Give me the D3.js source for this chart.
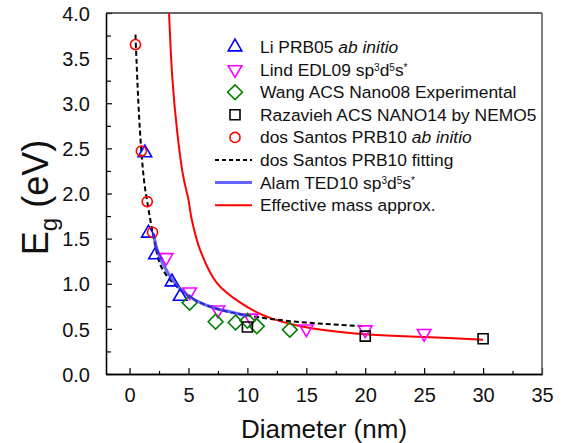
<!DOCTYPE html>
<html>
<head>
<meta charset="utf-8">
<script src="https://cdn.jsdelivr.net/npm/d3@7"></script>
<style>
  body { margin: 0; background: #fff; }
  svg { font-family: "Liberation Sans", Arial, sans-serif; }
</style>
</head>
<body>
<div id="chart"></div>
<script>
// values
const liPRB05 = [[1.3, 2.45], [1.6, 1.56], [2.2, 1.32], [3.6, 1.02], [4.3, 0.86]];
const lindEDL09 = [[3.1, 1.29], [5.1, 0.91], [7.5, 0.71], [10.3, 0.62], [15, 0.5], [20, 0.49], [25, 0.45]];
const wangNano08 = [[5.1, 0.79], [7.3, 0.58], [9.0, 0.57], [10.0, 0.59], [10.8, 0.53], [13.6, 0.49]];
const razaviehNano14 = [[10, 0.52], [20, 0.42], [30, 0.39]];
const dosSantosAbInitio = [[0.5, 3.65], [1.0, 2.47], [1.5, 1.91], [1.95, 1.57]];
const dosSantosFit = [[0.5, 3.76], [0.75, 3.0], [1.0, 2.47], [1.25, 2.12], [1.5, 1.91], [2.0, 1.54],
  [2.5, 1.25], [3.0, 1.12], [4.0, 0.97], [5.0, 0.86], [6.0, 0.79], [8.0, 0.7], [10, 0.65],
  [12, 0.61], [15, 0.57], [20, 0.53]];
const alamTED10 = [[2.0, 1.56], [2.4, 1.35], [3.0, 1.18], [3.5, 1.07], [4.5, 0.92], [6.0, 0.79],
  [7.5, 0.72], [8.5, 0.69], [10, 0.64]];
const effMass = [[3.35, 4.0], [3.64, 3.26], [4.03, 2.7], [4.54, 2.2], [5.0, 1.93], [5.28, 1.71],
  [6.0, 1.37], [7.4, 1.01], [9.4, 0.79], [11.65, 0.635], [14.5, 0.53], [20, 0.44], [25, 0.41], [30, 0.38]];

const xTicks = [0, 5, 10, 15, 20, 25, 30, 35];
const yTicks = [0, 0.5, 1, 1.5, 2, 2.5, 3, 3.5, 4];

const W = 574, H = 443;
const margin = { top: 13, right: 32, bottom: 69, left: 106 },
  width = W - margin.left - margin.right,
  height = H - margin.top - margin.bottom;

const svg = d3.select("#chart").append("svg").attr("width", W).attr("height", H);

const xScale = d3.scaleLinear().domain([-2, 35]).range([0, width]);
const yScale = d3.scaleLinear().domain([0, 4]).range([height, 0]);

const g = svg.append("g").attr("transform", `translate(${margin.left},${margin.top})`);

g.append("clipPath").attr("id", "clip").append("rect").attr("width", width).attr("height", height);

// axes (ticks pointing inward)
const xAxis = g.append("g").attr("transform", `translate(0,${height})`)
  .call(d3.axisBottom(xScale).tickValues(xTicks).tickSizeInner(-6).tickSizeOuter(0).tickPadding(14));
const xMinor = g.append("g").attr("transform", `translate(0,${height})`)
  .call(d3.axisBottom(xScale).tickValues(xTicks.slice(0, -1).map(d => d + 2.5)).tickSizeInner(-3).tickSizeOuter(0).tickFormat(""));
const yAxis = g.append("g")
  .call(d3.axisLeft(yScale).tickValues(yTicks).tickFormat(d3.format(".1f")).tickSizeInner(-6).tickSizeOuter(0).tickPadding(16));
const yMinor = g.append("g")
  .call(d3.axisLeft(yScale).tickValues(yTicks.slice(0, -1).map(d => d + 0.25)).tickSizeInner(-5).tickSizeOuter(0).tickFormat(""));

[xAxis, xMinor, yAxis, yMinor].forEach(a => {
  a.select(".domain").attr("stroke", "#000").attr("stroke-width", 1.3);
  a.selectAll("line").attr("stroke", "#000").attr("stroke-width", 1.2);
});
xAxis.selectAll("text").attr("font-size", 20).attr("fill", "#111").attr("font-family", "Liberation Sans, Arial");
yAxis.selectAll("text").attr("font-size", 20).attr("fill", "#111").attr("font-family", "Liberation Sans, Arial")
  .attr("dy", "0.36em");

// box top and right
g.append("line").attr("x1", 0).attr("x2", width).attr("y1", 0).attr("y2", 0)
  .attr("stroke", "#333").attr("stroke-width", 1.3);
g.append("line").attr("x1", width).attr("x2", width).attr("y1", 0).attr("y2", height)
  .attr("stroke", "#555").attr("stroke-width", 1.5);

// axis titles
svg.append("text").attr("x", margin.left + width / 2).attr("y", 438)
  .attr("text-anchor", "middle").attr("font-size", 26).attr("fill", "#111").text("Diameter (nm)");
const yt = svg.append("text").attr("transform", `translate(48,${margin.top + height / 2 + 4}) rotate(-90)`)
  .attr("text-anchor", "middle").attr("font-size", 36).attr("fill", "#111");
yt.append("tspan").text("E");
yt.append("tspan").attr("font-size", 24).attr("dy", 9).text("g");
yt.append("tspan").attr("dy", -9).text(" (eV)");

const lineGen = d3.line().x(d => xScale(d[0])).y(d => yScale(d[1])).curve(d3.curveMonotoneX);
const smoothGen = d3.line().x(d => xScale(d[0])).y(d => yScale(d[1])).curve(d3.curveCatmullRom.alpha(0.5));
const plot = g.append("g").attr("clip-path", "url(#clip)");

plot.append("path").datum(effMass).attr("d", smoothGen)
  .attr("fill", "none").attr("stroke", "#ff0000").attr("stroke-width", 2);
plot.append("path").datum(dosSantosFit).attr("d", lineGen)
  .attr("fill", "none").attr("stroke", "#000").attr("stroke-width", 2).attr("stroke-dasharray", "5,3");

const series = [
  { data: liPRB05, type: d3.symbolTriangle, size: 80, rot: 0, color: "#0000ff" },
  { data: lindEDL09, type: d3.symbolTriangle, size: 80, rot: 180, color: "#ff00ff" },
  { data: wangNano08, type: d3.symbolSquare, size: 110, rot: 45, color: "#008000" },
  { data: razaviehNano14, type: d3.symbolSquare, size: 100, rot: 0, color: "#000" },
  { data: dosSantosAbInitio, type: d3.symbolCircle, size: 80, rot: 0, color: "#ff0000" }
];

series.forEach(s => {
  plot.append("g").selectAll("path").data(s.data).enter().append("path")
    .attr("d", d3.symbol().type(s.type).size(s.size))
    .attr("transform", d => `translate(${xScale(d[0])},${yScale(d[1])}) rotate(${s.rot})`)
    .attr("fill", "none").attr("stroke", s.color).attr("stroke-width", 1.6);
});

plot.append("path").datum(alamTED10).attr("d", lineGen)
  .attr("fill", "none").attr("stroke", "#3333ff").attr("stroke-width", 3).attr("stroke-opacity", 0.75);

// legend
const legendItems = [
  { parts: [["Li PRB05 "], ["ab initio", "i"]], marker: 0 },
  { parts: [["Lind EDL09 sp"], ["3", "s"], ["d"], ["5", "s"], ["s"], ["*", "s"]], marker: 1 },
  { parts: [["Wang ACS Nano08 Experimental"]], marker: 2 },
  { parts: [["Razavieh ACS NANO14 by NEMO5"]], marker: 3 },
  { parts: [["dos Santos PRB10 "], ["ab initio", "i"]], marker: 4 },
  { parts: [["dos Santos PRB10 fitting"]], line: { color: "#000", dash: "4,3", w: 2 } },
  { parts: [["Alam TED10 sp"], ["3", "s"], ["d"], ["5", "s"], ["s"], ["*", "s"]], line: { color: "#3333ff", w: 3, op: 0.75 } },
  { parts: [["Effective mass approx."]], line: { color: "#ff0000", w: 2 } }
];

const leg = svg.append("g");
legendItems.forEach((it, i) => {
  const cy = 47 + i * 22.6;
  if (it.line) {
    leg.append("line").attr("x1", 215).attr("x2", 252).attr("y1", cy).attr("y2", cy)
      .attr("stroke", it.line.color).attr("stroke-width", it.line.w)
      .attr("stroke-dasharray", it.line.dash || null).attr("stroke-opacity", it.line.op || 1);
  } else {
    const s = series[it.marker];
    leg.append("path").attr("d", d3.symbol().type(s.type).size(s.size))
      .attr("transform", `translate(235,${cy}) rotate(${s.rot})`)
      .attr("fill", "none").attr("stroke", s.color).attr("stroke-width", 1.6);
  }
  const t = leg.append("text").attr("x", 260).attr("y", cy + 6).attr("font-size", 17.4).attr("fill", "#111");
  it.parts.forEach(p => {
    const ts = t.append("tspan").text(p[0]);
    if (p[1] === "i") ts.attr("font-style", "italic");
    if (p[1] === "s") ts.attr("font-size", 10).attr("baseline-shift", "55%");
  });
});
</script>
</body>
</html>
